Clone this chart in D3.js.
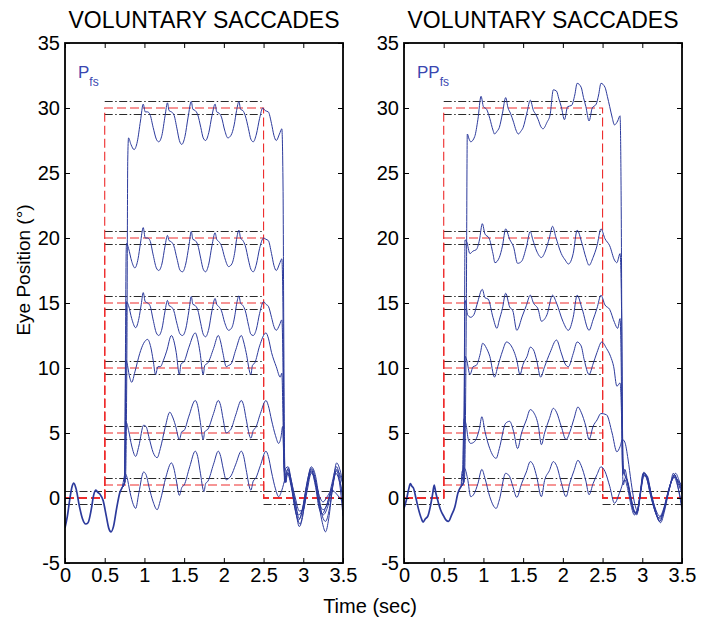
<!DOCTYPE html>
<html>
<head>
<meta charset="utf-8">
<script src="https://cdn.jsdelivr.net/npm/d3@7"></script>
<style>
  body { margin: 0; background: #fff; }
  svg text { font-family: "Liberation Sans", Arial, Helvetica, sans-serif; }
</style>
</head>
<body>
<div id="chart"></div>
<script>
// ---- data ----
const timeTicks = [0, 0.5, 1, 1.5, 2, 2.5, 3, 3.5];
const posTicks = [-5, 0, 5, 10, 15, 20, 25, 30, 35];
const targets = [1, 5, 10, 15, 20, 30];
const stepOn = 0.5, stepOff = 2.5, tEnd = 3.5;
const band = 0.5; // +/- tolerance lines around target

// Pfs panel: shared fixation before the saccade, then one trace per target
const pfsPre = [[0,-2.3],[0.03,-1.4],[0.06,-0.1],[0.09,0.9],[0.11,1.15],[0.14,0.7],[0.18,-0.6],[0.22,-1.6],[0.26,-2.0],[0.29,-1.9],[0.33,-0.9],[0.36,0.2],[0.39,0.6],[0.41,0.45],[0.44,0.3],[0.48,-0.2],[0.52,-1.4],[0.55,-2.3],[0.58,-2.6],[0.61,-2.2],[0.65,-0.8],[0.69,0.4],[0.72,0.8]];

const pfsT30 = [[0.72,0.8],[0.76,1.3],[0.78,12],[0.79,26],[0.8,27.7],[0.83,27.2],[0.87,26.8],[0.91,27.4],[0.95,29.0],[0.985,30.3],[1.01,29.7],[1.04,29.7],[1.07,29.5],[1.11,28.5],[1.15,27.6],[1.18,27.4],[1.22,27.9],[1.26,29.4],[1.29,30.4],[1.31,29.8],[1.34,29.7],[1.37,29.5],[1.41,28.4],[1.44,27.5],[1.47,27.2],[1.51,27.8],[1.55,29.3],[1.59,30.5],[1.61,29.9],[1.64,29.8],[1.67,29.5],[1.71,28.5],[1.74,27.7],[1.77,27.5],[1.81,28.1],[1.85,29.4],[1.89,30.3],[1.91,29.7],[1.94,29.6],[1.97,29.3],[2.01,28.3],[2.05,27.7],[2.09,27.9],[2.13,28.7],[2.16,29.8],[2.19,30.5],[2.21,29.9],[2.24,29.8],[2.27,29.4],[2.31,28.4],[2.34,27.6],[2.37,27.4],[2.41,28.0],[2.45,29.2],[2.49,30.0],[2.52,29.8],[2.56,29.7],[2.6,28.8],[2.63,27.9],[2.66,27.5],[2.7,28.0],[2.73,28.4],[2.745,24],[2.755,12],[2.765,3],[2.78,1.2],[2.8,2.0],[2.84,1.3],[2.9,-0.8],[2.95,-2.2],[2.99,-1.5],[3.04,0.6],[3.1,2.3],[3.15,1.5],[3.2,-0.6],[3.24,-1.9],[3.28,-2.6],[3.32,-1.6],[3.37,0.9],[3.42,2.7],[3.46,2.2],[3.5,1.1]];

const pfsT20 = [[0.72,0.8],[0.75,1.2],[0.76,10],[0.77,19.0],[0.776,19.6],[0.8,19.2],[0.84,18.2],[0.88,17.7],[0.92,18.4],[0.95,19.6],[0.985,20.8],[1.01,20.0],[1.04,20.0],[1.07,19.8],[1.11,18.7],[1.15,17.7],[1.18,17.5],[1.22,18.0],[1.26,19.4],[1.29,20.2],[1.31,19.8],[1.34,19.7],[1.37,19.4],[1.41,18.4],[1.45,17.5],[1.48,17.4],[1.52,18.0],[1.56,19.4],[1.59,20.5],[1.61,19.9],[1.64,19.8],[1.67,19.5],[1.71,18.4],[1.74,17.6],[1.77,17.4],[1.81,18.0],[1.85,19.4],[1.89,20.4],[1.91,19.9],[1.94,19.7],[1.97,19.4],[2.01,18.5],[2.06,17.8],[2.1,18.0],[2.14,19.0],[2.16,19.9],[2.19,20.6],[2.21,20.0],[2.24,19.8],[2.27,19.4],[2.31,18.3],[2.34,17.6],[2.37,17.4],[2.41,18.0],[2.45,19.2],[2.5,20.0],[2.53,19.9],[2.56,19.8],[2.6,18.8],[2.63,17.9],[2.66,17.5],[2.7,18.0],[2.73,18.4],[2.745,14],[2.755,6],[2.765,2],[2.78,1.8],[2.81,2.3],[2.85,1.0],[2.9,-0.5],[2.95,-1.6],[3.0,-0.6],[3.05,1.3],[3.1,2.2],[3.15,1.2],[3.2,-0.3],[3.25,-0.9],[3.3,-0.5],[3.36,1.1],[3.42,2.4],[3.46,1.5],[3.5,-0.4]];

const pfsT15 = [[0.72,0.8],[0.75,1.2],[0.765,8],[0.775,15.1],[0.8,14.8],[0.84,13.8],[0.89,13.1],[0.93,13.8],[0.96,14.9],[0.985,15.8],[1.01,15.1],[1.04,15.0],[1.07,14.8],[1.11,13.7],[1.15,12.7],[1.18,12.5],[1.22,13.0],[1.26,14.4],[1.29,15.2],[1.31,14.8],[1.34,14.7],[1.37,14.4],[1.41,13.4],[1.45,12.6],[1.48,12.5],[1.52,13.0],[1.56,14.4],[1.59,15.5],[1.61,14.9],[1.64,14.8],[1.67,14.5],[1.71,13.4],[1.74,12.6],[1.77,12.4],[1.81,13.0],[1.85,14.4],[1.89,15.35],[1.91,14.9],[1.94,14.7],[1.97,14.4],[2.01,13.5],[2.06,12.9],[2.1,13.1],[2.14,14.1],[2.16,14.9],[2.19,15.55],[2.21,15.0],[2.24,14.8],[2.27,14.4],[2.31,13.3],[2.34,12.6],[2.37,12.5],[2.41,13.0],[2.45,14.2],[2.5,15.1],[2.53,14.9],[2.56,14.75],[2.6,13.9],[2.63,13.2],[2.66,12.9],[2.7,13.3],[2.73,13.7],[2.745,10],[2.755,4],[2.765,1.5],[2.78,1.2],[2.8,1.9],[2.85,0.8],[2.9,-1.0],[2.94,-1.7],[2.99,-0.9],[3.05,1.1],[3.1,2.1],[3.15,1.0],[3.2,-0.8],[3.25,-1.3],[3.3,-0.8],[3.36,0.7],[3.42,2.1],[3.46,1.0],[3.5,-1.4]];

const pfsT10 = [[0.72,0.8],[0.75,1.2],[0.758,6],[0.764,10.6],[0.78,10.4],[0.81,9.4],[0.84,8.9],[0.88,9.7],[0.94,11.1],[0.99,11.9],[1.04,12.2],[1.08,11.6],[1.11,10.6],[1.14,9.5],[1.17,10.1],[1.2,10.1],[1.24,10.6],[1.28,11.3],[1.34,12.5],[1.37,12.1],[1.4,11.2],[1.44,9.5],[1.46,10.3],[1.5,10.5],[1.56,11.6],[1.64,12.7],[1.67,12.2],[1.7,11.2],[1.74,9.5],[1.76,10.2],[1.8,10.4],[1.87,11.5],[1.93,12.5],[1.96,12.0],[1.99,11.1],[2.03,10.1],[2.06,10.2],[2.09,10.3],[2.15,11.4],[2.22,12.5],[2.25,12.0],[2.28,11.2],[2.34,9.5],[2.36,10.2],[2.39,10.4],[2.45,11.7],[2.53,12.7],[2.56,12.3],[2.6,11.2],[2.66,10.1],[2.71,9.3],[2.73,9.6],[2.745,6],[2.755,2.5],[2.765,2.0],[2.78,2.3],[2.81,2.4],[2.85,1.3],[2.9,0.0],[2.95,-1.0],[3.0,-0.9],[3.05,0.6],[3.1,1.9],[3.15,1.4],[3.2,0.2],[3.25,-0.3],[3.3,0.1],[3.36,0.6],[3.42,0.3],[3.46,0.0],[3.5,-0.3]];

const pfsT5 = [[0.72,0.8],[0.75,1.2],[0.76,4],[0.772,5.8],[0.8,5.2],[0.84,4.0],[0.89,3.2],[0.93,4.0],[0.99,5.6],[1.02,5.5],[1.06,4.6],[1.11,3.5],[1.16,3.1],[1.2,3.8],[1.26,5.4],[1.32,6.6],[1.35,6.3],[1.39,5.6],[1.44,4.5],[1.47,5.1],[1.5,5.2],[1.56,6.3],[1.64,7.5],[1.67,7.1],[1.7,6.0],[1.74,4.5],[1.76,5.1],[1.8,5.3],[1.87,6.5],[1.93,7.5],[1.96,7.1],[1.99,6.1],[2.03,5.0],[2.06,5.1],[2.09,5.3],[2.15,6.4],[2.22,7.5],[2.25,7.1],[2.28,6.1],[2.34,4.6],[2.37,5.2],[2.4,5.4],[2.46,6.5],[2.53,7.5],[2.56,7.1],[2.6,6.0],[2.65,4.8],[2.69,4.2],[2.72,4.7],[2.74,5.5],[2.755,3],[2.765,1.2],[2.78,1.6],[2.82,1.9],[2.86,0.6],[2.91,-1.2],[2.96,-2.0],[3.0,-1.0],[3.05,0.9],[3.1,2.0],[3.15,1.3],[3.2,-0.4],[3.24,-1.2],[3.29,-0.6],[3.35,0.6],[3.41,1.9],[3.46,1.2],[3.5,0.2]];

const pfsT1 = [[0.72,0.8],[0.745,1.6],[0.755,1.9],[0.78,1.6],[0.82,0.4],[0.86,-0.5],[0.89,-0.8],[0.93,0.4],[0.99,2.0],[1.02,1.8],[1.06,0.8],[1.11,-0.3],[1.16,-0.9],[1.2,-0.2],[1.27,1.6],[1.34,2.7],[1.37,2.3],[1.4,1.4],[1.44,0.2],[1.47,0.8],[1.5,1.0],[1.57,2.4],[1.64,3.6],[1.67,3.2],[1.7,2.1],[1.75,0.5],[1.77,1.1],[1.8,1.3],[1.87,2.6],[1.93,3.6],[1.96,3.2],[1.99,2.3],[2.03,1.4],[2.06,1.5],[2.09,1.7],[2.15,2.6],[2.22,3.6],[2.25,3.2],[2.28,2.2],[2.34,0.6],[2.37,1.3],[2.4,1.5],[2.46,2.5],[2.53,3.6],[2.56,3.2],[2.6,2.0],[2.65,0.7],[2.69,0.1],[2.73,0.6],[2.77,1.5],[2.8,2.2],[2.84,1.6],[2.89,0.0],[2.94,-1.3],[2.98,-1.0],[3.04,0.9],[3.1,2.4],[3.15,1.8],[3.2,0.0],[3.24,-1.4],[3.28,-1.8],[3.33,-0.8],[3.38,1.2],[3.42,2.2],[3.46,1.8],[3.5,1.0]];

// PPfs panel
const ppfsPre = [[0,-0.8],[0.03,-0.15],[0.06,0.7],[0.08,1.1],[0.1,0.9],[0.12,0.75],[0.15,0.0],[0.18,-0.8],[0.22,-1.6],[0.24,-1.85],[0.27,-1.6],[0.3,-1.4],[0.33,-0.7],[0.36,0.3],[0.38,1.0],[0.4,0.4],[0.43,-0.3],[0.46,-0.9],[0.5,-1.4],[0.53,-1.7],[0.56,-1.8],[0.6,-1.3],[0.64,-0.7],[0.68,0.4],[0.72,0.9]];

const ppfsT30 = [[0.72,0.9],[0.76,1.3],[0.785,15],[0.797,28.0],[0.82,27.6],[0.84,27.4],[0.89,27.8],[0.93,29.1],[0.97,30.9],[1.0,30.1],[1.04,29.9],[1.08,29.2],[1.12,28.3],[1.14,28.0],[1.17,28.2],[1.2,28.5],[1.24,29.6],[1.28,30.8],[1.31,30.0],[1.34,29.6],[1.38,28.9],[1.41,28.3],[1.44,28.0],[1.47,28.2],[1.5,28.5],[1.55,29.7],[1.59,30.6],[1.63,29.8],[1.66,29.5],[1.69,29.1],[1.72,28.6],[1.75,28.4],[1.8,28.9],[1.84,29.5],[1.88,31.4],[1.92,31.3],[1.95,30.7],[1.98,30.1],[2.02,29.1],[2.06,30.1],[2.11,30.2],[2.15,31.0],[2.18,31.9],[2.23,31.6],[2.26,30.8],[2.29,30.1],[2.33,29.0],[2.37,30.0],[2.42,30.3],[2.45,31.0],[2.48,31.9],[2.53,31.6],[2.56,30.9],[2.59,30.1],[2.62,29.3],[2.65,28.7],[2.69,29.0],[2.72,29.4],[2.735,22],[2.745,10],[2.755,3],[2.77,2.0],[2.8,1.5],[2.85,0.2],[2.89,-0.9],[2.93,-1.2],[2.97,0.2],[3.01,1.9],[3.05,1.8],[3.1,0.6],[3.16,-0.8],[3.22,-1.8],[3.26,-1.2],[3.31,0.0],[3.35,0.9],[3.39,1.9],[3.43,1.5],[3.47,1.2],[3.5,0.9]];

const ppfsT20 = [[0.72,0.9],[0.75,1.2],[0.76,10],[0.768,19.85],[0.79,19.7],[0.83,18.8],[0.87,19.0],[0.91,19.1],[0.95,19.85],[0.986,21.1],[1.02,20.3],[1.07,20.0],[1.12,18.8],[1.145,18.1],[1.2,18.5],[1.24,19.4],[1.28,20.7],[1.33,19.9],[1.38,19.3],[1.43,18.05],[1.48,18.2],[1.54,19.3],[1.59,20.5],[1.62,19.9],[1.67,19.0],[1.73,18.5],[1.78,19.0],[1.83,20.0],[1.87,20.9],[1.91,20.1],[1.98,18.8],[2.03,18.3],[2.07,18.0],[2.13,18.8],[2.18,20.6],[2.24,19.6],[2.29,18.5],[2.33,17.9],[2.38,18.5],[2.43,19.4],[2.48,20.7],[2.53,19.95],[2.59,19.4],[2.65,18.3],[2.68,18.1],[2.72,18.8],[2.74,14],[2.75,6],[2.76,2.5],[2.78,1.8],[2.82,1.2],[2.86,0.0],[2.9,-1.0],[2.93,-1.3],[2.97,0.0],[3.01,1.8],[3.05,1.6],[3.1,0.3],[3.16,-1.0],[3.22,-1.6],[3.27,-0.9],[3.32,0.2],[3.36,1.2],[3.4,1.7],[3.45,1.3],[3.5,0.5]];

const ppfsT15 = [[0.72,0.9],[0.75,1.2],[0.76,8],[0.768,15.2],[0.78,15.0],[0.8,14.1],[0.84,13.9],[0.88,14.1],[0.92,14.9],[0.986,16.05],[1.02,15.4],[1.06,15.3],[1.12,13.9],[1.17,13.05],[1.2,13.7],[1.24,14.6],[1.28,15.75],[1.33,14.7],[1.37,14.4],[1.42,12.9],[1.49,14.0],[1.54,14.8],[1.59,15.6],[1.63,15.0],[1.69,14.5],[1.73,13.6],[1.8,14.1],[1.87,15.6],[1.92,15.0],[2.0,13.6],[2.07,12.9],[2.13,13.9],[2.18,15.6],[2.24,14.6],[2.33,12.9],[2.38,13.7],[2.43,14.6],[2.48,15.6],[2.53,14.85],[2.59,14.5],[2.65,13.5],[2.69,13.05],[2.72,13.8],[2.735,10],[2.745,4],[2.755,1.8],[2.78,2.2],[2.82,1.0],[2.86,-0.3],[2.9,-1.1],[2.94,-1.0],[2.98,0.6],[3.02,1.9],[3.06,1.4],[3.11,0.1],[3.17,-1.2],[3.22,-1.8],[3.27,-1.0],[3.32,0.3],[3.37,1.4],[3.41,1.8],[3.46,0.5],[3.5,-0.9]];

const ppfsT10 = [[0.72,0.9],[0.75,1.2],[0.76,6],[0.768,10.9],[0.79,10.6],[0.83,9.5],[0.87,10.1],[0.91,10.2],[0.96,11.1],[0.99,11.9],[1.04,11.5],[1.08,10.9],[1.14,9.3],[1.18,10.1],[1.24,11.3],[1.29,12.0],[1.35,11.7],[1.42,10.6],[1.46,9.5],[1.5,10.3],[1.55,10.9],[1.59,11.6],[1.63,11.4],[1.67,10.6],[1.72,9.3],[1.77,10.1],[1.84,11.2],[1.92,12.15],[1.98,11.15],[2.03,10.3],[2.07,10.1],[2.13,11.1],[2.18,12.0],[2.23,11.7],[2.27,10.6],[2.33,9.5],[2.38,10.3],[2.43,11.2],[2.49,12.0],[2.55,11.5],[2.6,10.9],[2.64,10.1],[2.68,8.6],[2.72,8.85],[2.74,6],[2.75,2.5],[2.76,1.0],[2.79,1.6],[2.83,0.8],[2.87,-0.5],[2.91,-1.2],[2.95,-0.6],[2.99,1.0],[3.03,1.9],[3.08,1.2],[3.14,-0.5],[3.2,-1.5],[3.25,-1.3],[3.3,-0.2],[3.35,1.0],[3.4,1.6],[3.45,0.8],[3.5,-0.6]];

const ppfsT5 = [[0.72,0.9],[0.735,1.5],[0.745,4],[0.755,6.1],[0.78,5.7],[0.81,4.5],[0.84,4.2],[0.89,4.35],[0.95,5.35],[0.98,6.25],[1.02,5.1],[1.08,3.8],[1.16,3.05],[1.2,3.8],[1.28,5.75],[1.33,5.9],[1.38,5.1],[1.43,3.8],[1.48,5.0],[1.54,6.0],[1.59,6.8],[1.63,6.6],[1.69,5.6],[1.73,4.1],[1.77,5.0],[1.83,6.1],[1.88,6.9],[1.92,6.6],[1.98,5.5],[2.04,4.5],[2.09,5.1],[2.14,6.1],[2.19,7.0],[2.23,6.6],[2.29,5.5],[2.33,4.5],[2.38,5.5],[2.43,6.0],[2.48,6.5],[2.55,6.4],[2.62,5.0],[2.68,3.55],[2.72,3.95],[2.75,4.5],[2.78,4.3],[2.82,3.0],[2.86,1.2],[2.9,-0.3],[2.94,-1.0],[2.98,0.4],[3.02,1.7],[3.06,1.7],[3.11,0.4],[3.17,-0.9],[3.22,-1.4],[3.27,-0.8],[3.32,0.4],[3.37,1.3],[3.41,1.6],[3.46,1.0],[3.5,0.3]];

const ppfsT1 = [[0.72,0.9],[0.73,2.0],[0.76,2.3],[0.8,1.5],[0.84,0.1],[0.88,0.3],[0.93,1.1],[0.98,2.2],[1.02,1.5],[1.08,0.1],[1.16,-0.8],[1.2,-0.15],[1.28,1.9],[1.33,1.65],[1.37,0.9],[1.42,0.05],[1.48,1.1],[1.54,2.0],[1.59,2.8],[1.63,2.5],[1.67,1.65],[1.73,0.1],[1.77,1.35],[1.83,2.1],[1.88,2.8],[1.92,2.5],[1.98,1.2],[2.04,0.1],[2.09,1.2],[2.14,2.1],[2.19,2.9],[2.23,2.5],[2.29,1.3],[2.33,0.25],[2.38,1.1],[2.43,1.8],[2.48,2.4],[2.53,2.05],[2.59,0.9],[2.65,-0.4],[2.72,0.5],[2.78,1.4],[2.82,0.6],[2.86,-0.6],[2.9,-1.3],[2.94,-0.9],[2.98,0.5],[3.02,2.0],[3.06,1.5],[3.12,0.0],[3.18,-1.3],[3.23,-1.9],[3.28,-1.0],[3.33,0.4],[3.38,1.5],[3.42,1.9],[3.46,1.4],[3.5,0.6]];

// ---- layout ----
const W = 717, H = 620;
const plotTop = 43, plotW = 278, plotH = 520;
const traceColor = "#2c3a9c";
const targetColor = "#ee2c2c";

const panels = [
  { left: 65, name: "P", pre: pfsPre, traces: [pfsT1, pfsT5, pfsT10, pfsT15, pfsT20, pfsT30] },
  { left: 404, name: "PP", pre: ppfsPre, traces: [ppfsT1, ppfsT5, ppfsT10, ppfsT15, ppfsT20, ppfsT30] }
];

const svg = d3.select("#chart").append("svg").attr("width", W).attr("height", H);

const x = d3.scaleLinear().domain([0, tEnd]).range([0, plotW]);
const y = d3.scaleLinear().domain([-5, 35]).range([plotH, 0]);

const smooth = d3.line().x(d => x(d[0])).y(d => y(d[1])).curve(d3.curveMonotoneX);
const straight = d3.line().x(d => x(d[0])).y(d => y(d[1]));

panels.forEach((p, i) => {
  const g = svg.append("g").attr("transform", `translate(${p.left},${plotTop})`);

  g.append("clipPath").attr("id", `clip${i}`)
    .append("rect").attr("width", plotW).attr("height", plotH);

  g.append("text")
    .attr("x", plotW / 2).attr("y", -15)
    .attr("text-anchor", "middle")
    .style("font-size", "23px")
    .text("VOLUNTARY SACCADES");

  const plot = g.append("g").attr("clip-path", `url(#clip${i})`);

  // tolerance bands (dash-dot)
  const bandLines = [];
  [band, -band].forEach(b => {
    bandLines.push([[0, b], [stepOn, b]]);
    bandLines.push([[stepOff, b], [tEnd, b]]);
  });
  targets.forEach(t => {
    bandLines.push([[stepOn, t + band], [stepOff, t + band]]);
    bandLines.push([[stepOn, t - band], [stepOff, t - band]]);
  });
  plot.selectAll(".band").data(bandLines).enter().append("path")
    .attr("class", "band")
    .attr("d", straight)
    .attr("fill", "none")
    .attr("stroke", "#2a2a2a")
    .attr("stroke-width", 1)
    .attr("stroke-dasharray", "8,2.5,1.5,2.5");

  // target steps (red dashed)
  plot.selectAll(".target").data(targets).enter().append("path")
    .attr("class", "target")
    .attr("d", t => straight([[0, 0], [stepOn, 0], [stepOn, t], [stepOff, t], [stepOff, 0], [tEnd, 0]]))
    .attr("fill", "none")
    .attr("stroke", targetColor)
    .attr("stroke-width", 1.1)
    .attr("stroke-dasharray", "9,4");

  // eye traces
  plot.append("path")
    .attr("d", smooth(p.pre))
    .attr("fill", "none")
    .attr("stroke", traceColor)
    .attr("stroke-width", 1.7);

  plot.selectAll(".trace").data(p.traces).enter().append("path")
    .attr("class", "trace")
    .attr("d", smooth)
    .attr("fill", "none")
    .attr("stroke", traceColor)
    .attr("stroke-width", 1);

  // axes with inward ticks on all sides
  const fmt = d => String(d);
  const styleAxis = ax => {
    ax.select(".domain").remove();
    ax.selectAll("line").attr("stroke", "#000");
    ax.selectAll("text").style("font-size", "20px").attr("fill", "#000");
  };
  g.append("g").attr("transform", `translate(0,${plotH})`)
    .call(d3.axisBottom(x).tickValues(timeTicks).tickFormat(fmt).tickSize(-5).tickPadding(5))
    .call(styleAxis);
  g.append("g")
    .call(d3.axisTop(x).tickValues(timeTicks).tickFormat("").tickSize(-5))
    .call(styleAxis);
  g.append("g")
    .call(d3.axisLeft(y).tickValues(posTicks).tickFormat(fmt).tickSize(-5).tickPadding(5))
    .call(styleAxis);
  g.append("g").attr("transform", `translate(${plotW},0)`)
    .call(d3.axisRight(y).tickValues(posTicks).tickFormat("").tickSize(-5))
    .call(styleAxis);

  g.append("rect")
    .attr("width", plotW).attr("height", plotH)
    .attr("fill", "none").attr("stroke", "#000").attr("stroke-width", 1.8);

  // panel label P_fs / PP_fs
  const lbl = g.append("text")
    .attr("x", 13).attr("y", 35)
    .attr("fill", "#3a46b0")
    .style("font-size", "17px");
  lbl.append("tspan").text(p.name);
  lbl.append("tspan").attr("dy", 8).style("font-size", "12px").text("fs");
});

svg.append("text")
  .attr("x", 370).attr("y", 613)
  .attr("text-anchor", "middle")
  .style("font-size", "20px")
  .text("Time (sec)");

svg.append("text")
  .attr("transform", "translate(30,270) rotate(-90)")
  .attr("text-anchor", "middle")
  .style("font-size", "19px")
  .text("Eye Position (°)");
</script>
</body>
</html>
